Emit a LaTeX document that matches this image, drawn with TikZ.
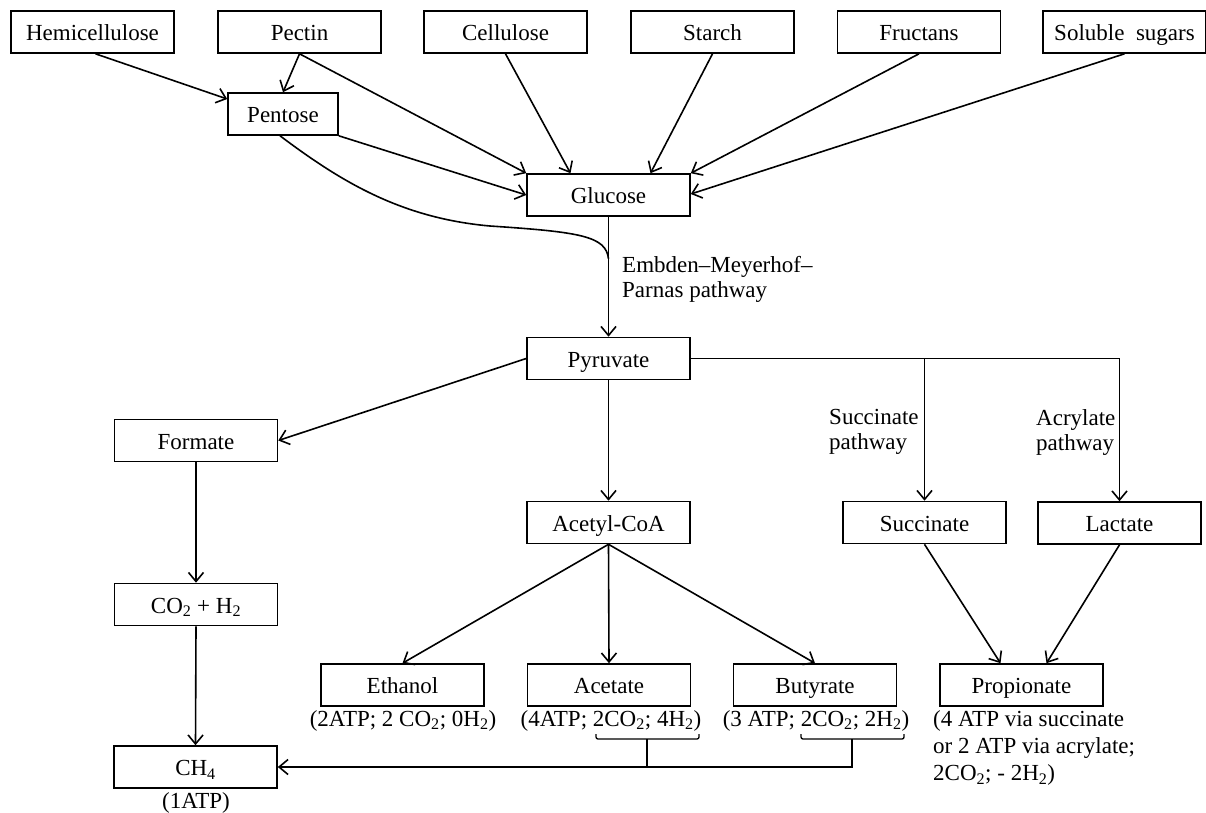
\documentclass[tikz,border=0pt]{standalone}
\usepackage{fontspec}
\setmainfont{Liberation Serif}
\usetikzlibrary{arrows.meta,calc}
\begin{document}
\begin{tikzpicture}[x=1pt,y=-1pt,
  font=\fontsize{23}{25}\selectfont,
  box/.style={draw,line width=1.6pt,minimum width=163pt,minimum height=42pt,inner sep=0pt,text height=17pt,text depth=0pt},
  arr/.style={line width=1.6pt,-{Straight Barb[length=9pt,width=15pt,line width=1.6pt]}},
  ln/.style={line width=1.6pt},
  lbl/.style={inner sep=0pt,align=left}]
\useasboundingbox (0,0) rectangle (1206,812);
% top row
\node[box] (hemi) at (92.5,32) {Hemicellulose};
\node[box] (pect) at (299.5,32) {Pectin};
\node[box] (cell) at (505.5,32) {Cellulose};
\node[box] (star) at (712.5,32) {Starch};
\node[box] (fruc) at (919,32) {Fructans};
\node[box] (solu) at (1124.5,32) {Soluble\ \ sugars};
\node[box,minimum width=110pt] (pent) at (283,114) {Pentose};
\node[box] (gluc) at (608.5,195) {Glucose};
\node[box] (pyr) at (608.5,358.5) {Pyruvate};
\node[box] (form) at (196,440.5) {Formate};
\node[box] (acoa) at (608.5,522.5) {Acetyl-CoA};
\node[box] (succ) at (924.5,522.5) {Succinate};
\node[box] (lact) at (1119.5,523) {Lactate};
\node[box] (coh) at (196,604.5) {CO\textsubscript{2} + H\textsubscript{2}};
\node[box] (etoh) at (402.5,685) {Ethanol};
\node[box] (acet) at (609,685) {Acetate};
\node[box] (buty) at (815,685) {Butyrate};
\node[box] (prop) at (1021.5,685) {Propionate};
\node[box] (ch4) at (195.5,767) {CH\textsubscript{4}};
% labels
\node[inner sep=0pt,anchor=base] (letoh) at (403,726) {(2ATP; 2 CO\textsubscript{2}; 0H\textsubscript{2})};
\node[inner sep=0pt,anchor=base] (lacet) at (611,726) {(4ATP; 2CO\textsubscript{2}; 4H\textsubscript{2})};
\node[inner sep=0pt,anchor=base] (lbuty) at (816,726) {(3 ATP; 2CO\textsubscript{2}; 2H\textsubscript{2})};
\node[inner sep=0pt,anchor=base] (lch4) at (196,808) {(1ATP)};
\node[lbl,anchor=north west,font=\fontsize{23}{27}\selectfont] (lprop) at (933,710.5) {(4 ATP via succinate\\or 2 ATP via acrylate;\\2CO\textsubscript{2}; - 2H\textsubscript{2})};
\node[lbl,anchor=north west] (lemp) at (622,256.5) {Embden--Meyerhof--\\Parnas pathway};
\node[lbl,anchor=north west] (lsuc) at (829,409.5) {Succinate\\pathway};
\node[lbl,anchor=north west] (lacr) at (1036,409.5) {Acrylate\\pathway};
% arrows from top
\draw[arr] ([xshift=3pt]hemi.south) -- ([yshift=15pt]pent.west);
\draw[arr] (pect.south) -- (pent.north);
\draw[arr] (pect.south) -- (gluc.north west);
\draw[arr] (cell.south) -- ([xshift=-38pt]gluc.north);
\draw[arr] (star.south) -- ([xshift=42pt]gluc.north);
\draw[arr] (fruc.south) -- (gluc.north east);
\draw[arr] (solu.south) -- ([yshift=1pt]gluc.east);
\draw[arr] (pent.south east) -- (gluc.west);
\coordinate (join) at ($(gluc.south)+(0,42)$);
\draw[ln] ([xshift=-3pt]pent.south) .. controls +(60,45) and (400,218) .. (490,226) .. controls (580,232) and (606,236) .. (join);
\draw[arr] (gluc.south) -- (pyr.north);
% from pyruvate
\draw[arr] (pyr.west) -- (form.east);
\draw[arr] (pyr.south) -- (acoa.north);
\draw[ln] (pyr.east) -- (lact.north |- pyr.east);
\draw[arr] (lact.north |- pyr.east) -- (lact.north);
\draw[arr] (succ.north |- pyr.east) -- (succ.north);
\draw[arr] (form.south) -- (coh.north);
\draw[arr] (coh.south) -- (ch4.north);
\draw[arr] (acoa.south) -- (etoh.north);
\draw[arr] (acoa.south) -- (acet.north);
\draw[arr] (acoa.south) -- (buty.north);
\draw[arr] (succ.south) -- ([xshift=-21pt]prop.north);
\draw[arr] (lact.south) -- ([xshift=25pt]prop.north);
% brackets
\coordinate (bA) at (647,739);
\coordinate (bB) at (852,739);
\draw[line width=1.3pt,rounded corners=2pt] (596,734) -- (596,739) -- (699,739) -- (699,734);
\draw[line width=1.3pt,rounded corners=2pt] (801,734) -- (801,739) -- (904,739) -- (904,734);
\draw[ln] (bA) -- (bA |- ch4.east);
\draw[arr] (bB) -- (bB |- ch4.east) -- (ch4.east);
\end{tikzpicture}
\end{document}
